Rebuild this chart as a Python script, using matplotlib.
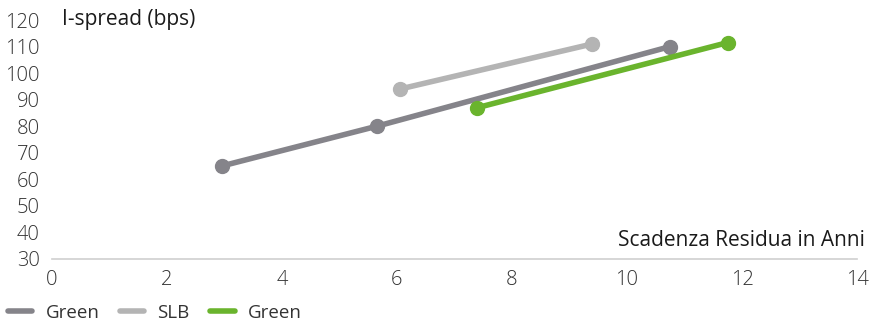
import matplotlib.pyplot as plt
from matplotlib.lines import Line2D

# maturities (years) and I-spread (bps)
green1_x = [2.95, 5.65, 10.75]
green1_y = [65, 80, 110]
slb_x = [6.05, 9.4]
slb_y = [94, 111]
green2_x = [7.4, 11.75]
green2_y = [87, 111.5]

series = [
    ('Green', green1_x, green1_y, '#85848a'),
    ('SLB', slb_x, slb_y, '#b4b4b4'),
    ('Green', green2_x, green2_y, '#6ab42d'),
]

plt.rcParams['font.family'] = ['Open Sans', 'DejaVu Sans']

fig = plt.figure(figsize=(8.83, 3.23), dpi=100)
ax = fig.add_axes([52 / 883, 64 / 323, 805 / 883, 239 / 323])

for name, x, y, c in series:
    ax.plot(x, y, color=c, lw=4, marker='o', ms=10, solid_capstyle='butt')

ax.set_xlim(0, 14)
ax.set_ylim(30, 120)
ax.set_xticks(range(0, 15, 2))
ax.set_yticks(range(30, 121, 10))
for s in ['top', 'right', 'left']:
    ax.spines[s].set_visible(False)
ax.spines['bottom'].set_color('#cfcfcf')
ax.spines['bottom'].set_linewidth(1.2)
ax.tick_params(length=0, labelsize=14.5, colors='#333333')
ax.tick_params(axis='x', pad=8)
ax.tick_params(axis='y', pad=9)
for lab in ax.get_xticklabels() + ax.get_yticklabels():
    lab.set_fontweight('light')

fig.text(62 / 883, 1 - 20 / 323, 'I-spread (bps)',
         fontsize=15, color='#1a1a1a', va='center', ha='left')
fig.text(865 / 883, 1 - 240 / 323, 'Scadenza Residua in Anni',
         fontsize=15, color='#1a1a1a', va='center', ha='right')

handles = [Line2D([0], [0], color=c, lw=4, solid_capstyle='round') for _, _, _, c in series]
fig.legend(handles, [s[0] for s in series], loc='center left',
           bbox_to_anchor=(-0.01, 10 / 323), ncol=3, frameon=False,
           fontsize=13.5, handlelength=1.3, columnspacing=1.1, handletextpad=0.7,
           labelcolor='#333333')

plt.savefig('out.png', dpi=100)
